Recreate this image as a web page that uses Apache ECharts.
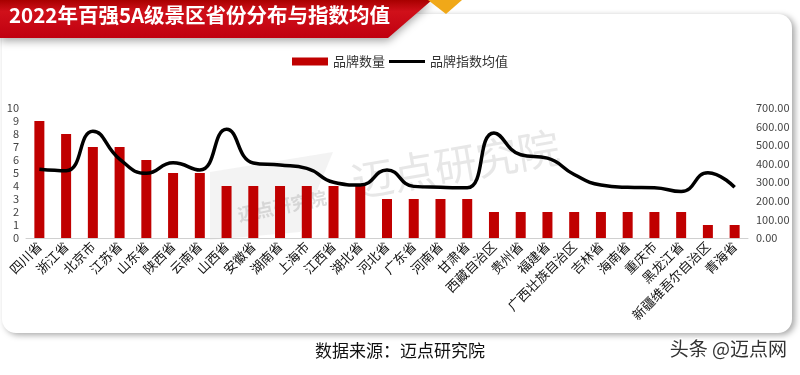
<!DOCTYPE html>
<html>
<head>
<meta charset="utf-8">
<script src="https://cdn.jsdelivr.net/npm/echarts@6/dist/echarts.min.js"></script>
<style>
html,body{margin:0;padding:0;background:#ffffff;}
#c{width:800px;height:375px;}
</style>
</head>
<body>
<div id="c"></div>
<script>
var categories = ['四川省','浙江省','北京市','江苏省','山东省','陕西省','云南省','山西省','安徽省','湖南省','上海市','江西省','湖北省','河北省','广东省','河南省','甘肃省','西藏自治区','贵州省','福建省','广西壮族自治区','吉林省','海南省','重庆市','黑龙江省','新疆维吾尔自治区','青海省'];
var brandCount = [9,8,7,7,6,5,5,4,4,4,4,4,4,3,3,3,3,2,2,2,2,2,2,2,2,1,1];
var indexAvg = [370,362,575,425,348,405,366,585,404,393,375,300,285,366,278,273,270,566,448,430,342,285,273,271,250,352,273];
var leftTicks = {min:0,max:10,interval:1};
var rightTicks = {min:0,max:700,interval:100};

var font = '"Noto Sans CJK SC","Noto Sans",sans-serif';
var chart = echarts.init(document.getElementById('c'), null, {renderer:'canvas'});
chart.setOption({
  backgroundColor:'#ffffff',
  textStyle:{fontFamily:font},
  graphic:[
    {type:'rect',z:-10,shape:{x:2,y:14,width:790,height:319,r:14},style:{fill:'#ffffff',shadowBlur:6,shadowColor:'rgba(0,0,0,0.35)',shadowOffsetX:3,shadowOffsetY:2}},
    {type:'polygon',z:-5,shape:{points:[[0,0],[432,0],[388,38],[0,38]]},style:{fill:new echarts.graphic.LinearGradient(0,0,0,1,[{offset:0,color:'#a80000'},{offset:0.3,color:'#d0101a'},{offset:1,color:'#c00010'}]),shadowBlur:8,shadowColor:'rgba(0,0,0,0.35)',shadowOffsetY:3}},
    {type:'polygon',z:-5,shape:{points:[[428,0],[462,0],[446,14]]},style:{fill:'#f0a818'}},
    {type:'text',z:5,left:9,top:5,style:{text:'2022年百强5A级景区省份分布与指数均值',fill:'#ffffff',font:'bold 20.5px '+font}},
    {type:'text',z:-2,x:352,y:182,rotation:0.17,style:{text:'迈点研究院',fill:'rgba(185,185,185,0.35)',font:'42px '+font,textVerticalAlign:'middle'}},
    {type:'polygon',z:-2,shape:{points:[[210,172],[333,152],[300,232],[210,240]]},style:{fill:'rgba(200,200,200,0.22)'}},
    {type:'text',z:-2,x:238,y:215,rotation:0.2,style:{text:'迈点研究院',fill:'rgba(170,170,170,0.4)',font:'bold 18px '+font,textVerticalAlign:'middle'}},
    {type:'text',left:'center',top:342,style:{text:'数据来源：迈点研究院',fill:'#111',font:'17px '+font}},
    {type:'text',right:12,top:338,style:{text:'头条 @迈点网',fill:'#333',font:'19px '+font,stroke:'#fff',lineWidth:2}}
  ],
  legend:{
    top:50,left:'center',itemGap:4,
    textStyle:{fontSize:13,color:'#333',fontFamily:font},
    data:[{name:'品牌数量',icon:'rect',itemStyle:{color:'#c00000'}},{name:'品牌指数均值',icon:'path://M0,4h40v3.5h-40z'}],
    itemWidth:36,itemHeight:8
  },
  grid:{left:26,right:52,top:108,bottom:137,containLabel:false},
  xAxis:{
    type:'category',data:categories,
    axisLine:{lineStyle:{color:'#d0d0d0'}},
    axisTick:{show:false},
    axisLabel:{interval:0,rotate:45,fontSize:13,color:'#111',margin:6,fontFamily:font}
  },
  yAxis:[
    {type:'value',min:leftTicks.min,max:leftTicks.max,interval:leftTicks.interval,splitLine:{show:false},axisLine:{show:false},axisTick:{show:false},axisLabel:{fontSize:11,color:'#444',margin:7}},
    {type:'value',min:rightTicks.min,max:rightTicks.max,interval:rightTicks.interval,splitLine:{show:false},axisLine:{show:false},axisTick:{show:false},axisLabel:{fontSize:11,color:'#444',margin:8,formatter:function(v){return v.toFixed(2);}}}
  ],
  series:[
    {name:'品牌数量',type:'bar',data:brandCount,barWidth:10,itemStyle:{color:'#c00000'}},
    {name:'品牌指数均值',type:'line',yAxisIndex:1,data:indexAvg,smooth:0.5,symbol:'none',lineStyle:{color:'#000',width:3.5},itemStyle:{color:'#000'}}
  ]
});
</script>
</body>
</html>
